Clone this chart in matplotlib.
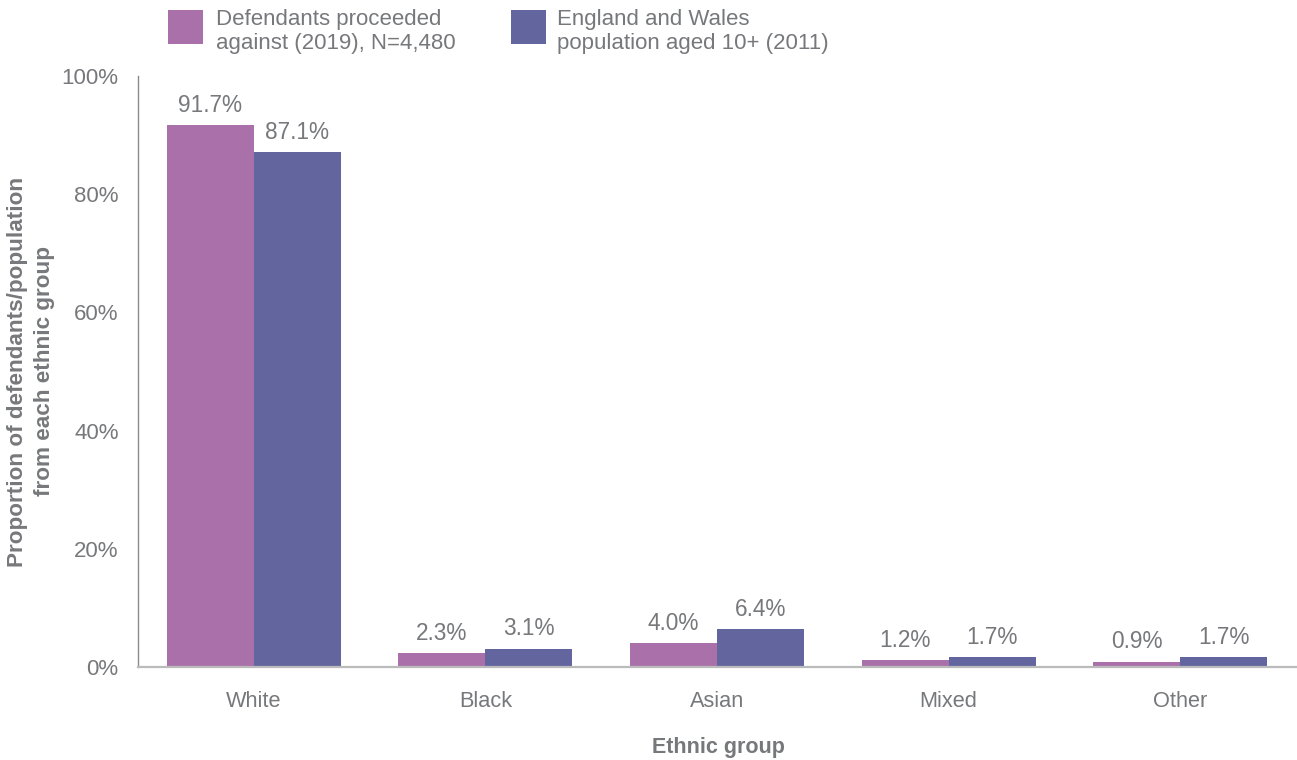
import matplotlib
matplotlib.use("Agg")
import matplotlib.pyplot as plt
from matplotlib.patches import Rectangle
import numpy as np

categories = ["White", "Black", "Asian", "Mixed", "Other"]
defendants = [91.7, 2.3, 4.0, 1.2, 0.9]
population = [87.1, 3.1, 6.4, 1.7, 1.7]
series_labels = ["Defendants proceeded\nagainst (2019), N=4,480",
                 "England and Wales\npopulation aged 10+ (2011)"]
yticks = [0, 20, 40, 60, 80, 100]
ytick_labels = ["0%", "20%", "40%", "60%", "80%", "100%"]

PINK = "#A970AA"
BLUE = "#63669E"
GREY = "#77787B"

plt.rcParams["font.family"] = ["Liberation Sans", "DejaVu Sans"]

W, H = 1297, 760
fig = plt.figure(figsize=(W / 100, H / 100), dpi=100)
ax = fig.add_axes([138 / W, 93 / H, 1158 / W, 591 / H])

x = np.arange(len(categories))
w = 0.376
b1 = ax.bar(x - w / 2, defendants, w, color=PINK, label=series_labels[0])
b2 = ax.bar(x + w / 2, population, w, color=BLUE, label=series_labels[1])

for bars in (b1, b2):
    ax.bar_label(bars, labels=[f"{v:.1f}%" for v in bars.datavalues],
                 padding=6, fontsize=16.3, color=GREY)

ax.set_xlim(-0.5, 4.5)
ax.set_ylim(0, 100)
ax.set_yticks(yticks)
ax.set_yticklabels(ytick_labels)
ax.set_xticks(x)
ax.set_xticklabels(categories)
ax.tick_params(axis="y", length=0, pad=14, labelsize=16, labelcolor=GREY)
ax.tick_params(axis="x", length=0, pad=17.5, labelsize=15.7, labelcolor=GREY)

for s in ("top", "right"):
    ax.spines[s].set_visible(False)
ax.spines["left"].set_color("#8A8A8A")
ax.spines["left"].set_linewidth(1.0)
ax.spines["bottom"].set_color("#BBBBBB")
ax.spines["bottom"].set_linewidth(1.6)

ax.set_xlabel("Ethnic group", fontsize=15.5, fontweight="bold", color=GREY)
ax.xaxis.set_label_coords((718 - 138) / 1158, -(747 - 667) / 591)
ax.xaxis.label.set_va("center")

ax.set_ylabel("Proportion of defendants/population\nfrom each ethnic group",
              fontsize=16.2, fontweight="bold", color=GREY,
              ha="center", va="center", multialignment="center")
ax.yaxis.label.set_linespacing(1.4)
ax.yaxis.set_label_coords((31 - 138) / 1158, 0.5)

# legend drawn in figure pixels
legend_items = [(b1, 168, 216), (b2, 511, 557)]
for (bars, hx, tx), lab in zip(legend_items, series_labels):
    fig.add_artist(Rectangle((hx / W, 1 - 44 / H), 35 / W, 34 / H,
                             transform=fig.transFigure,
                             facecolor=bars.patches[0].get_facecolor(),
                             edgecolor="none"))
    fig.text(tx / W, 1 - 9 / H, lab, ha="left", va="top", fontsize=16,
             color=GREY, linespacing=1.18)

fig.savefig("out.png", dpi=100)
